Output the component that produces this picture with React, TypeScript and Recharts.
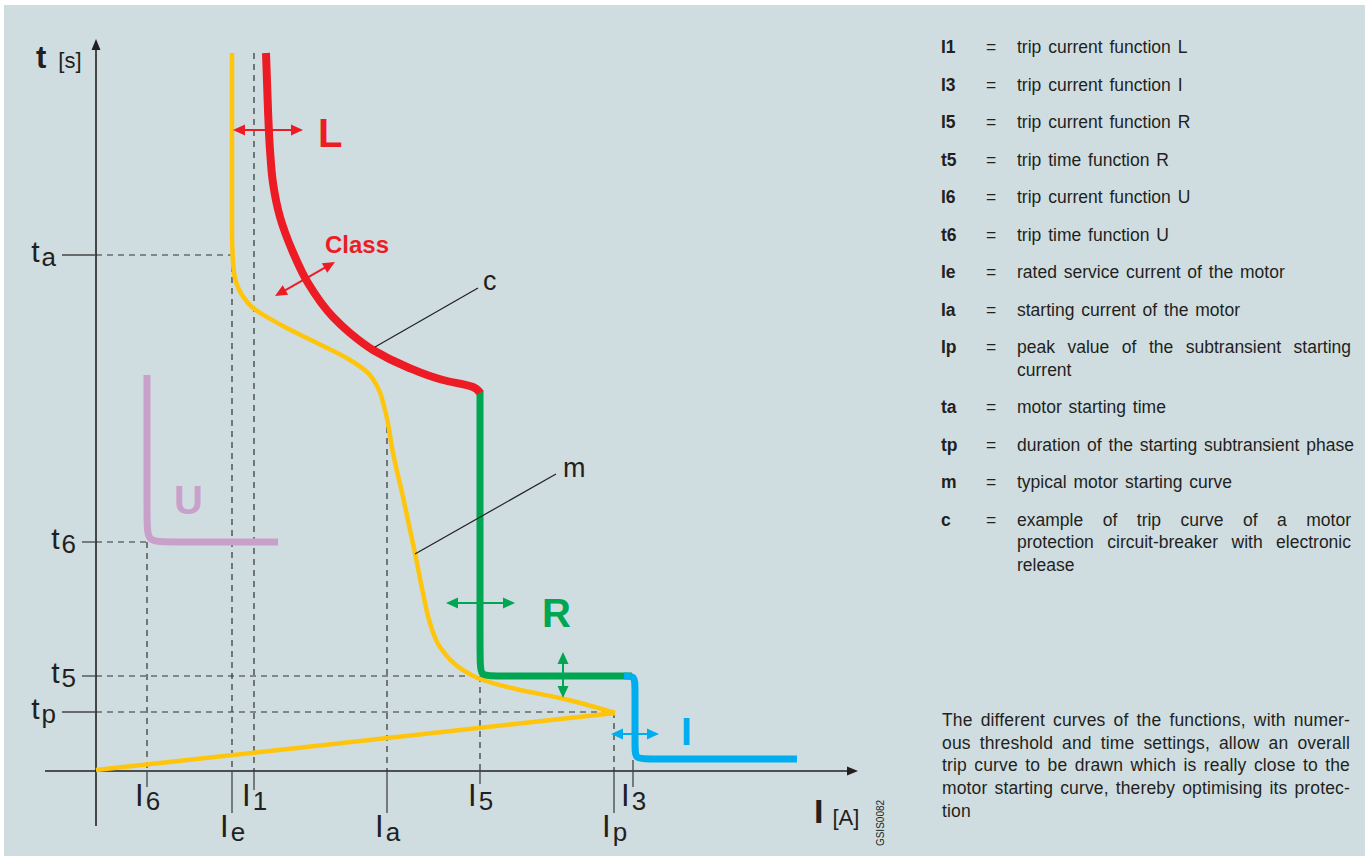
import React from 'react';
import { ComposedChart, Line, XAxis, YAxis, ReferenceLine, ReferenceDot } from 'recharts';

// Schematic units: x = current I (arbitrary), y = time t (arbitrary); origin = axis crossing
const motorRise = [
  { x: 0, y: 1 },
  { x: 519, y: 58 },
];
const motorDecay = [
  { x: 136, y: 718 }, { x: 136, y: 541 }, { x: 137, y: 509 }, { x: 140, y: 489 },
  { x: 146, y: 476 }, { x: 157, y: 463 }, { x: 187, y: 445 }, { x: 221, y: 428 },
  { x: 254, y: 411 }, { x: 271, y: 399 }, { x: 281, y: 385 }, { x: 289, y: 361 },
  { x: 297, y: 318 }, { x: 307, y: 274 }, { x: 319, y: 218 }, { x: 327, y: 178 },
  { x: 334, y: 148 }, { x: 344, y: 124 }, { x: 364, y: 103 }, { x: 384, y: 92 },
  { x: 424, y: 81 }, { x: 464, y: 73 }, { x: 519, y: 58 },
];
const curveL = [
  { x: 170, y: 718 }, { x: 172, y: 661 }, { x: 174, y: 621 }, { x: 177, y: 588 },
  { x: 184, y: 554 }, { x: 196, y: 521 }, { x: 212, y: 488 }, { x: 237, y: 454 },
  { x: 254, y: 438 }, { x: 277, y: 421 }, { x: 311, y: 404 }, { x: 347, y: 391 },
  { x: 377, y: 384 }, { x: 384, y: 378 },
];
const curveR = [
  { x: 384, y: 381 }, { x: 384, y: 110 }, { x: 384, y: 95 }, { x: 399, y: 95 }, { x: 536, y: 95 },
];
const curveI = [
  { x: 528, y: 95 }, { x: 539, y: 95 }, { x: 539, y: 84 }, { x: 539, y: 24 },
  { x: 539, y: 12 }, { x: 552, y: 12 }, { x: 701, y: 12 },
];
const curveU = [
  { x: 51, y: 396 }, { x: 51, y: 250 }, { x: 51, y: 229 }, { x: 72, y: 229 }, { x: 182, y: 229 },
];

const xTickValues = [51, 136, 158, 291, 384, 518, 537];
const xTickSubs = ['6', 'e', '1', 'a', '5', 'p', '3'];
const yTickValues = [516, 229, 95, 59];
const yTickSubs = ['a', '6', '5', 'p'];

const hGuides = [
  { y: 516, x0: 0, x1: 136 },
  { y: 229, x0: 0, x1: 51 },
  { y: 95, x0: 0, x1: 384 },
  { y: 59, x0: 0, x1: 518 },
];
const vGuides = [
  { x: 51, y0: 229, y1: 0 },
  { x: 136, y0: 516, y1: 0 },
  { x: 158, y0: 718, y1: 0 },
  { x: 291, y0: 344, y1: 0 },
  { x: 384, y0: 95, y1: 0 },
  { x: 518, y0: 59, y1: 0 },
];

const arrowNames = ['L', 'Class', 'R1', 'R2', 'I'];
const arrowFrom = [[137, 641], [179, 475], [350, 168], [467, 119], [515, 37]];
const arrowTo = [[207, 641], [239, 509], [419, 168], [467, 73], [563, 37]];

const leaderFrom = [[279, 424], [319, 217]];
const leaderTo = [[382, 483], [460, 297]];

const curveLabels = ['L', 'Class', 'U', 'R', 'I', 'c', 'm'];
const curveLabelX = [222, 229, 78, 446, 585, 387, 467];
const curveLabelY = [624, 518, 257, 144, 26, 481, 294];

const legendKeys = ['I1', 'I3', 'I5', 't5', 'I6', 't6', 'Ie', 'Ia', 'Ip', 'ta', 'tp', 'm', 'c'];
const legendTexts = [
  ['trip current function L'],
  ['trip current function I'],
  ['trip current function R'],
  ['trip time function R'],
  ['trip current function U'],
  ['trip time function U'],
  ['rated service current of the motor'],
  ['starting current of the motor'],
  ['peak value of the subtransient starting', 'current'],
  ['motor starting time'],
  ['duration of the starting subtransient phase'],
  ['typical motor starting curve'],
  ['example of trip curve of a motor', 'protection circuit-breaker with electronic', 'release'],
];
const noteLines = [
  'The different curves of the functions, with numer-',
  'ous threshold and time settings, allow an overall',
  'trip curve to be drawn which is really close to the',
  'motor starting curve, thereby optimising its protec-',
  'tion',
];

// ---- styles ----
const FONT = "'Liberation Sans', Arial, Helvetica, sans-serif";
const INK = '#231f20';
const RED = '#ed1c24';
const GREEN = '#00a651';
const BLUE = '#00aeef';
const YELLOW = '#fec50c';
const PINK = '#c8a0ca';
const arrowColor: Record<string, string> = { L: RED, Class: RED, R1: GREEN, R2: GREEN, I: BLUE };
const labelStyle: Record<string, any> = {
  L: { fill: RED, fontSize: 40, fontWeight: 'bold' },
  Class: { fill: RED, fontSize: 24, fontWeight: 'bold' },
  U: { fill: PINK, fontSize: 40, fontWeight: 'bold' },
  R: { fill: GREEN, fontSize: 40, fontWeight: 'bold' },
  I: { fill: BLUE, fontSize: 39, fontWeight: 'bold' },
  c: { fill: INK, fontSize: 27 },
  m: { fill: INK, fontSize: 27 },
};

const XTick = (props: any) => {
  const { x, y, payload } = props;
  const i = xTickValues.indexOf(payload.value);
  const sub = xTickSubs[i];
  const low = sub === 'e' || sub === 'a' || sub === 'p';
  const len = low ? 42 : sub === '5' ? 13 : sub === '1' ? 19 : 16;
  const up = sub === '3' ? 11 : 0;
  const base = y + (low ? 66 : 35);
  return (
    <g>
      <line x1={x} x2={x} y1={y - up} y2={y + len} stroke="#444" strokeWidth={1.3} />
      <text x={x - 12} y={base} fill={INK} fontFamily={FONT}>
        <tspan fontSize={31}>I</tspan>
        <tspan fontSize={26} dx={2} dy={4}>{sub}</tspan>
      </text>
    </g>
  );
};

const YTick = (props: any) => {
  const { x, y, payload } = props;
  const i = yTickValues.indexOf(payload.value);
  const sub = yTickSubs[i];
  const len = sub === 'a' || sub === 'p' ? 34 : 14;
  return (
    <g>
      <line x1={x - len} x2={x} y1={y} y2={y} stroke="#444" strokeWidth={1.3} />
      <text x={x - len - 6} y={y + 7} textAnchor="end" fill={INK} fontFamily={FONT}>
        <tspan fontSize={30}>t</tspan>
        <tspan fontSize={26} dx={2} dy={4}>{sub}</tspan>
      </text>
    </g>
  );
};

const head = (angle: number, color: string, len = 12, half = 5.5) => (p: any) => (
  <polygon
    points={`0,0 ${-len},${-half} ${-len},${half}`}
    transform={`translate(${p.cx},${p.cy}) rotate(${angle})`}
    fill={color}
  />
);

const textShape = (content: React.ReactNode, style: any) => (p: any) => (
  <text x={p.cx} y={p.cy} fontFamily={FONT} {...style}>{content}</text>
);

export default function App() {
  const arrows = arrowNames.map((n, i) => {
    const [x0, y0] = arrowFrom[i];
    const [x1, y1] = arrowTo[i];
    const dx = x1 - x0;
    const dy = y1 - y0;
    const L = Math.hypot(dx, dy);
    const ux = dx / L;
    const uy = dy / L;
    const ang = (Math.atan2(-dy, dx) * 180) / Math.PI;
    const c = arrowColor[n];
    const s = 8;
    return [
      <ReferenceLine key={`as${i}`} ifOverflow="visible"
        segment={[{ x: x0 + ux * s, y: y0 + uy * s }, { x: x1 - ux * s, y: y1 - uy * s }]}
        stroke={c} strokeWidth={2} />,
      <ReferenceDot key={`ah1${i}`} x={x1} y={y1} ifOverflow="visible" shape={head(ang, c)} />,
      <ReferenceDot key={`ah0${i}`} x={x0} y={y0} ifOverflow="visible" shape={head(ang + 180, c)} />,
    ];
  });

  return (
    <div style={{ position: 'absolute', left: 0, top: 0, width: 1372, height: 857, background: '#fff', fontFamily: FONT }}>
      <div style={{ position: 'absolute', left: 4, top: 5, width: 1361, height: 851, background: '#cfdde1' }} />
      <div style={{ position: 'absolute', left: 0, top: 0 }}>
        <ComposedChart width={900} height={857} margin={{ top: 40, right: 42, bottom: 0, left: 0 }}>
          <XAxis type="number" dataKey="x" domain={[0, 762]} ticks={xTickValues} interval={0}
            height={86} axisLine={false} tickLine={false} tickSize={0} tickMargin={0} tick={<XTick />} />
          <YAxis type="number" dataKey="y" domain={[0, 731]} ticks={yTickValues} interval={0}
            width={96} axisLine={false} tickLine={false} tickSize={0} tickMargin={0} tick={<YTick />} />

          {hGuides.map((g, i) => (
            <ReferenceLine key={`hg${i}`} ifOverflow="visible"
              segment={[{ x: g.x0, y: g.y }, { x: g.x1, y: g.y }]}
              stroke="#333" strokeWidth={1.2} strokeDasharray="6 5" />
          ))}
          {vGuides.map((g, i) => (
            <ReferenceLine key={`vg${i}`} ifOverflow="visible"
              segment={[{ x: g.x, y: g.y0 }, { x: g.x, y: g.y1 }]}
              stroke="#333" strokeWidth={1.2} strokeDasharray="6 5" />
          ))}

          <ReferenceLine ifOverflow="visible" segment={[{ x: 0, y: -55 }, { x: 0, y: 724 }]} stroke={INK} strokeWidth={1.6} />
          <ReferenceLine ifOverflow="visible" segment={[{ x: -51, y: 0 }, { x: 754, y: 0 }]} stroke={INK} strokeWidth={1.6} />
          <ReferenceDot x={0} y={732} ifOverflow="visible" shape={head(-90, INK, 11, 4.5)} />
          <ReferenceDot x={762} y={0} ifOverflow="visible" shape={head(0, INK, 11, 4.5)} />

          <Line data={motorRise} dataKey="y" type="linear" stroke={YELLOW} strokeWidth={4.5} dot={false} activeDot={false} isAnimationActive={false} strokeLinejoin="round" />
          <Line data={motorDecay} dataKey="y" type="monotoneY" stroke={YELLOW} strokeWidth={4.5} dot={false} activeDot={false} isAnimationActive={false} strokeLinejoin="round" />
          <Line data={curveU} dataKey="y" type="basis" stroke={PINK} strokeWidth={7} dot={false} activeDot={false} isAnimationActive={false} />
          <Line data={curveR} dataKey="y" type="basis" stroke={GREEN} strokeWidth={7} dot={false} activeDot={false} isAnimationActive={false} />
          <Line data={curveI} dataKey="y" type="basis" stroke={BLUE} strokeWidth={7} dot={false} activeDot={false} isAnimationActive={false} />
          <Line data={curveL} dataKey="y" type="monotoneY" stroke={RED} strokeWidth={8} dot={false} activeDot={false} isAnimationActive={false} />

          {leaderFrom.map((f, i) => (
            <ReferenceLine key={`ld${i}`} ifOverflow="visible"
              segment={[{ x: f[0], y: f[1] }, { x: leaderTo[i][0], y: leaderTo[i][1] }]}
              stroke={INK} strokeWidth={1.2} />
          ))}

          {arrows}

          {curveLabels.map((t, i) => (
            <ReferenceDot key={`cl${i}`} x={curveLabelX[i]} y={curveLabelY[i]} ifOverflow="visible"
              shape={textShape(t, labelStyle[t])} />
          ))}

          <ReferenceDot x={-60} y={703} ifOverflow="visible"
            shape={textShape(
              <>
                <tspan fontSize={31} fontWeight="bold">t</tspan>
                <tspan fontSize={22} dx={12}>[s]</tspan>
              </>, { fill: INK })} />
          <ReferenceDot x={718} y={-52} ifOverflow="visible"
            shape={textShape(
              <>
                <tspan fontSize={34} fontWeight="bold">I</tspan>
                <tspan fontSize={22} dx={9} dy={2}>[A]</tspan>
              </>, { fill: INK })} />
          <ReferenceDot x={784} y={-52} ifOverflow="visible"
            shape={(p: any) => (
              <text x={p.cx} y={p.cy} fontFamily={FONT} fontSize={10} fill={INK} textAnchor="middle"
                dominantBaseline="central" transform={`rotate(-90 ${p.cx} ${p.cy})`}>GSIS0082</text>
            )} />
        </ComposedChart>
      </div>

      <div style={{ position: 'absolute', left: 941, top: 36, width: 412, fontSize: 17.5, color: INK, wordSpacing: 2 }}>
        {legendKeys.map((k, i) => (
          <div key={k} style={{ display: 'flex', marginBottom: 15 }}>
            <div style={{ width: 45, fontWeight: 'bold', lineHeight: '22.5px' }}>{k}</div>
            <div style={{ width: 31, lineHeight: '22.5px' }}>=</div>
            <div style={{ width: 334 }}>
              {legendTexts[i].map((line, j, arr) => (
                <div key={j} style={{
                  lineHeight: '22.5px', whiteSpace: 'nowrap',
                  textAlign: 'justify', textAlignLast: j < arr.length - 1 ? 'justify' : 'left',
                }}>{line}</div>
              ))}
            </div>
          </div>
        ))}
      </div>

      <div style={{ position: 'absolute', left: 942, top: 709, width: 408, fontSize: 17.5, color: INK, letterSpacing: 0.15 }}>
        {noteLines.map((line, j) => (
          <div key={j} style={{
            lineHeight: '22.7px', textAlign: 'justify', whiteSpace: 'nowrap',
            textAlignLast: j < noteLines.length - 1 ? 'justify' : 'left',
          }}>{line}</div>
        ))}
      </div>
    </div>
  );
}
